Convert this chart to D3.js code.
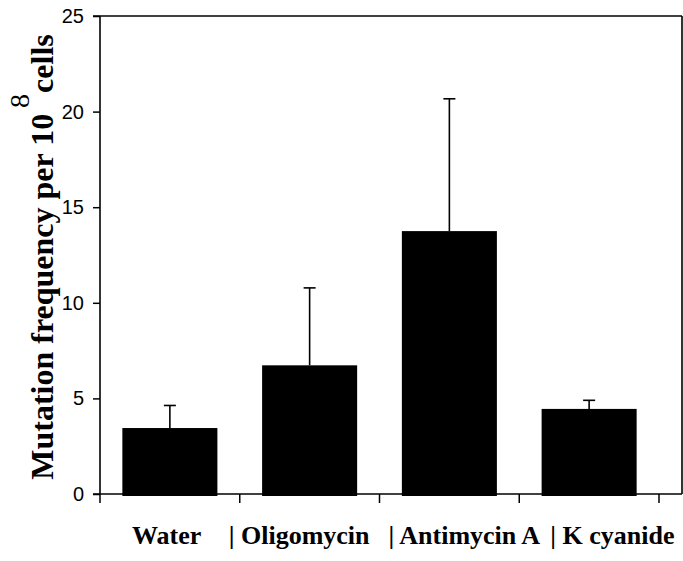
<!DOCTYPE html>
<html>
<head>
<meta charset="utf-8">
<script src="https://cdn.jsdelivr.net/npm/d3@7"></script>
<style>
  html, body { margin: 0; padding: 0; background: #fff; }
  svg { display: block; }
</style>
</head>
<body>
<svg id="chart" width="683" height="561"></svg>
<script>
// Treatments and mean mutation frequency (per 10^8 cells) with upper error
const categories = ["Water", "Oligomycin", "Antimycin A", "K cyanide"];
const labels = ["Water", "| Oligomycin", "| Antimycin A", "| K cyanide"];
const means = [3.45, 6.73, 13.75, 4.45];
const errors = [1.18, 4.05, 6.92, 0.45];
const yTicks = [0, 5, 10, 15, 20, 25];

const svg = d3.select("#chart");
const plotLeft = 100, plotRight = 682, plotTop = 16, plotBottom = 494, xEnd = 659;

const x = d3.scaleBand()
  .domain(categories)
  .range([plotLeft, xEnd])
  .paddingInner(0.32)
  .paddingOuter(0.16);

const y = d3.scaleLinear().domain([0, 25]).range([plotBottom, plotTop]);

const ink = "#000";

// Bars
svg.append("g").selectAll("rect")
  .data(categories)
  .join("rect")
  .attr("x", d => x(d))
  .attr("width", x.bandwidth())
  .attr("y", (d, i) => y(means[i]))
  .attr("height", (d, i) => y(0) - y(means[i]) + 2)
  .attr("fill", ink);

// Upper error bars
const eg = svg.append("g").attr("stroke", ink).attr("stroke-width", 1.6);
categories.forEach((c, i) => {
  const cx = x(c) + x.bandwidth() / 2;
  eg.append("line")
    .attr("x1", cx).attr("x2", cx)
    .attr("y1", y(means[i])).attr("y2", y(means[i] + errors[i]));
  eg.append("line")
    .attr("x1", cx - 6).attr("x2", cx + 6)
    .attr("y1", y(means[i] + errors[i])).attr("y2", y(means[i] + errors[i]));
});

// Y axis
const yAxis = svg.append("g")
  .attr("transform", `translate(${plotLeft},0)`)
  .call(d3.axisLeft(y).tickValues(yTicks).tickSize(7).tickPadding(9).tickSizeOuter(0));
yAxis.select(".domain").remove();
yAxis.selectAll(".tick line").attr("stroke", ink).attr("stroke-width", 1.5);
yAxis.selectAll(".tick text")
  .attr("fill", ink)
  .style("font-family", "'Liberation Sans', Arial, sans-serif")
  .style("font-size", "20px");

// Frame
const frame = svg.append("g").attr("stroke", ink).attr("stroke-width", 1.6).attr("fill", "none");
frame.append("line").attr("x1", plotLeft).attr("x2", plotLeft).attr("y1", plotTop).attr("y2", plotBottom);
frame.append("line").attr("x1", plotLeft - 7).attr("x2", plotRight).attr("y1", plotTop).attr("y2", plotTop);
frame.append("line").attr("x1", plotRight).attr("x2", plotRight).attr("y1", plotTop).attr("y2", plotBottom);
frame.append("line").attr("x1", plotLeft - 7).attr("x2", plotRight).attr("y1", plotBottom).attr("y2", plotBottom);

// Category boundary ticks along the bottom
const edges = categories.map(c => x(c) - x.step() * 0.16).concat([xEnd]);
svg.append("g").selectAll("line")
  .data(edges)
  .join("line")
  .attr("x1", d => d).attr("x2", d => d)
  .attr("y1", plotBottom).attr("y2", plotBottom + 9)
  .attr("stroke", ink).attr("stroke-width", 1.5);

// Category labels
const labelNudge = [32, -11, 9, 31];
svg.append("g").selectAll("text")
  .data(labels)
  .join("text")
  .attr("x", (d, i) => edges[i] + labelNudge[i])
  .attr("y", 544)
  .attr("text-anchor", "start")
  .style("font-family", "'Liberation Serif', 'Times New Roman', serif")
  .style("font-weight", "bold")
  .style("font-size", "26px")
  .attr("fill", ink)
  .text(d => d);

// Y axis title
const yt = svg.append("text")
  .attr("transform", "translate(53,257) rotate(-90)")
  .attr("text-anchor", "middle")
  .style("font-family", "'Liberation Serif', 'Times New Roman', serif")
  .style("font-weight", "bold")
  .style("font-size", "32px")
  .attr("fill", ink);
yt.append("tspan").text("Mutation frequency per 10");
yt.append("tspan").attr("dx", 6).attr("dy", -24).style("font-size", "28px").style("font-weight", "normal").text("8");
yt.append("tspan").attr("dx", 1).attr("dy", 24).text("cells");
</script>
</body>
</html>
